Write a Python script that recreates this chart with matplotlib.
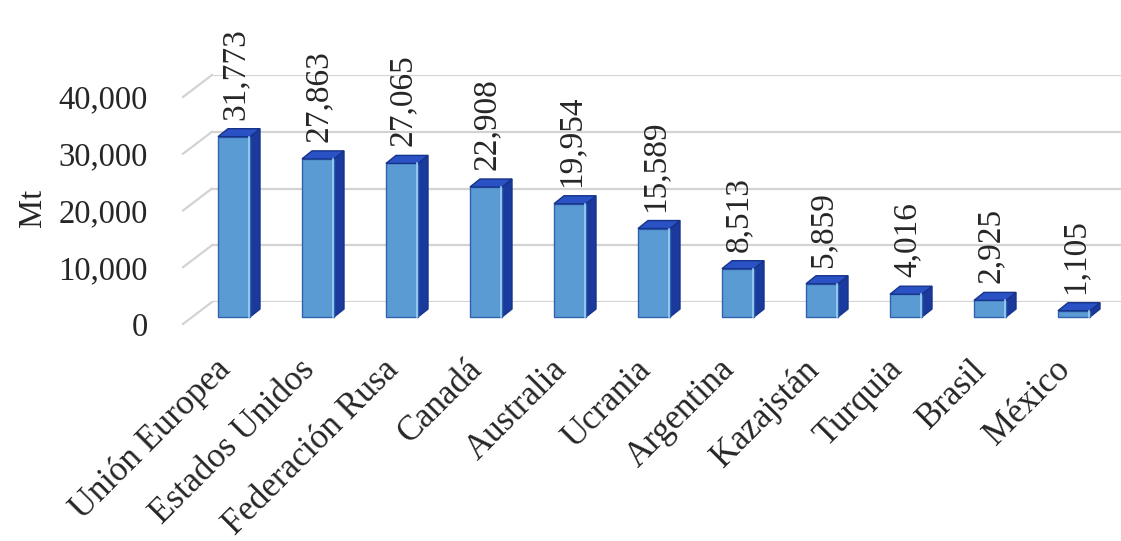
import matplotlib
matplotlib.use("Agg")
import matplotlib.pyplot as plt
from matplotlib.patches import Polygon
from matplotlib.ticker import FuncFormatter
from matplotlib.transforms import ScaledTranslation

countries = ["Unión Europea", "Estados Unidos", "Federación Rusa", "Canadá",
             "Australia", "Ucrania", "Argentina", "Kazajstán", "Turquia",
             "Brasil", "México"]
production = [31773, 27863, 27065, 22908, 19954, 15589, 8513, 5859, 4016, 2925, 1105]
y_ticks = [0, 10000, 20000, 30000, 40000]

FRONT = "#5b9bd3"
SIDE = "#1b3a9e"
TOP = "#2a52c4"
EDGE = "#16338a"
GRID = "#d3d3d3"
TEXT = "#262626"
FS = 23.5

plt.rcParams["font.family"] = ["Liberation Serif", "DejaVu Serif"]

DPI = 100
fig = plt.figure(figsize=(11.21, 5.41), dpi=DPI)
# the axes is the back wall of the 3d box
ax = fig.add_axes([212 / 1121, 239 / 541, 924 / 1121, 227 / 541])
ax.set_xlim(-0.5, 10.5)
ax.set_ylim(0, 40000)
for s in ax.spines.values():
    s.set_visible(False)
ax.yaxis.grid(True, color=GRID, lw=1.6)
ax.set_axisbelow(True)

# pixel -> data unit conversion
p0 = ax.transData.transform((0, 0))
p1 = ax.transData.transform((1, 1))
ux = 1 / (p1[0] - p0[0])
uy = 1 / (p1[1] - p0[1])

# wall depth (back -> front) in pixels
WALL_DX, WALL_DY = -29, -22
for t in y_ticks:
    ax.plot([-0.5, -0.5 + WALL_DX * ux], [t, t + WALL_DY * uy],
            color=GRID, lw=1.6, clip_on=False, zorder=0.5)

# bar geometry in pixels, relative to back wall
BAR_FDX, BAR_FDY = -20, -15   # front face offset
BAR_DX, BAR_DY = 10, 8        # bar depth
HALF_W = 16

for i, v in enumerate(production):
    fx = i + BAR_FDX * ux
    fy0 = BAR_FDY * uy
    fy1 = v + BAR_FDY * uy
    w = HALF_W * ux
    ddx, ddy = BAR_DX * ux, BAR_DY * uy
    front = [(fx - w, fy0), (fx + w, fy0), (fx + w, fy1), (fx - w, fy1)]
    side = [(fx + w, fy0), (fx + w + ddx, fy0 + ddy), (fx + w + ddx, fy1 + ddy), (fx + w, fy1)]
    top = [(fx - w, fy1), (fx + w, fy1), (fx + w + ddx, fy1 + ddy), (fx - w + ddx, fy1 + ddy)]
    ax.add_patch(Polygon(side, closed=True, fc=SIDE, ec=EDGE, lw=1, clip_on=False, zorder=3))
    ax.add_patch(Polygon(front, closed=True, fc=FRONT, ec="#2f62b0", lw=1, clip_on=False, zorder=3))
    ax.plot([fx + w - 1.5 * ux] * 2, [fy0, fy1], color="#9fd0f2", lw=1.2, clip_on=False, zorder=3.5)
    ax.add_patch(Polygon(top, closed=True, fc=TOP, ec=EDGE, lw=1, clip_on=False, zorder=3))
    ax.text(fx + 1 * ux, fy1 + 17 * uy, f"{v:,}", rotation=90, ha="center", va="bottom",
            fontsize=FS + 0.5, color=TEXT, clip_on=False)

# y ticks, shown at the front edge of the wall
ax.set_yticks(y_ticks)
ax.yaxis.set_major_formatter(FuncFormatter(lambda x, p: f"{int(x):,}"))
ax.tick_params(axis="y", length=0, pad=46, labelsize=FS, labelcolor=TEXT)
for lab in ax.get_yticklabels():
    lab.set_transform(lab.get_transform() + ScaledTranslation(0, WALL_DY / DPI, fig.dpi_scale_trans))

ax.set_xticks(range(len(countries)))
ax.set_xticklabels(countries, rotation=45, ha="right", va="top", rotation_mode="anchor")
ax.tick_params(axis="x", length=0, pad=0, labelsize=25, labelcolor=TEXT)
for lab in ax.get_xticklabels():
    lab.set_transform(lab.get_transform() + ScaledTranslation(-40 / DPI, -51 / DPI, fig.dpi_scale_trans))

ax.set_ylabel("Mt", fontsize=FS, color=TEXT)
ax.yaxis.set_label_coords((48 - 212) / 924, (302 - 208) / 227)

fig.savefig("out.png", dpi=DPI)
